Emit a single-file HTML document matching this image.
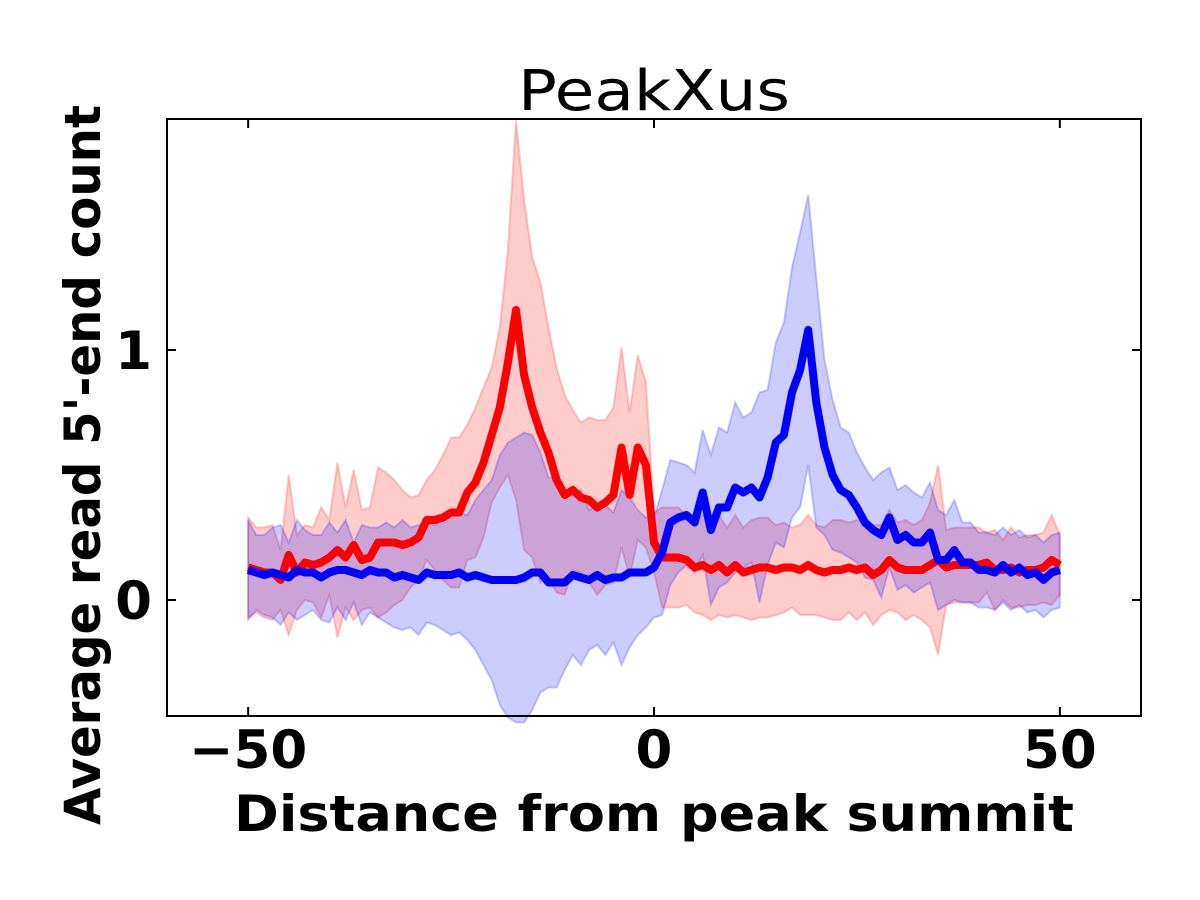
<!DOCTYPE html>
<html><head><meta charset="utf-8"><style>
body{margin:0;background:#fff}
svg{display:block;font-family:"DejaVu Sans","Liberation Sans",sans-serif}
</style></head><body>
<svg id="chart" width="1200" height="900" viewBox="0 0 1200 900" xmlns="http://www.w3.org/2000/svg">
<rect width="1200" height="900" fill="#fff"/>
<g id="bands"></g><g id="lines"></g>
<rect x="167" y="119" width="974" height="597" fill="none" stroke="#000" stroke-width="2"/>
<g id="ticks"></g>
<text x="654" y="110" font-size="56" text-anchor="middle" textLength="272" lengthAdjust="spacingAndGlyphs">PeakXus</text>
<text x="654" y="831" font-size="50" font-weight="bold" text-anchor="middle" textLength="840" lengthAdjust="spacingAndGlyphs">Distance from peak summit</text>
<text transform="translate(100,465) rotate(-90)" font-size="50" font-weight="bold" text-anchor="middle" textLength="720" lengthAdjust="spacingAndGlyphs">Average read 5'-end count</text>
</svg>
<script>
const xs=[];for(let i=-50;i<=50;i++)xs.push(i);
const redMean=[0.13,0.12,0.11,0.11,0.08,0.18,0.11,0.15,0.14,0.15,0.17,0.20,0.17,0.22,0.16,0.17,0.23,0.23,0.23,0.22,0.23,0.25,0.32,0.32,0.33,0.35,0.35,0.43,0.47,0.55,0.66,0.77,0.95,1.16,0.90,0.77,0.67,0.59,0.48,0.42,0.44,0.41,0.40,0.37,0.39,0.42,0.61,0.42,0.61,0.54,0.23,0.17,0.17,0.17,0.16,0.13,0.14,0.12,0.14,0.11,0.14,0.11,0.12,0.13,0.13,0.12,0.13,0.13,0.12,0.14,0.12,0.11,0.12,0.12,0.13,0.12,0.13,0.10,0.12,0.16,0.13,0.12,0.12,0.12,0.14,0.16,0.13,0.14,0.14,0.14,0.14,0.15,0.12,0.12,0.13,0.11,0.12,0.12,0.13,0.16,0.14];
const redSd=[0.2,0.17,0.18,0.19,0.12,0.32,0.15,0.15,0.15,0.22,0.15,0.35,0.2,0.3,0.2,0.2,0.3,0.28,0.25,0.22,0.18,0.17,0.16,0.2,0.25,0.3,0.3,0.27,0.3,0.3,0.27,0.32,0.45,0.76,0.7,0.6,0.6,0.5,0.45,0.4,0.32,0.3,0.33,0.35,0.33,0.35,0.4,0.33,0.37,0.33,0.12,0.2,0.2,0.2,0.18,0.18,0.2,0.2,0.2,0.18,0.2,0.18,0.2,0.2,0.2,0.18,0.18,0.16,0.18,0.2,0.18,0.18,0.2,0.2,0.18,0.2,0.18,0.2,0.18,0.2,0.18,0.2,0.18,0.2,0.25,0.38,0.15,0.15,0.15,0.15,0.15,0.12,0.16,0.12,0.16,0.14,0.14,0.14,0.14,0.18,0.12];
const blueMean=[0.12,0.11,0.10,0.11,0.10,0.09,0.12,0.11,0.11,0.09,0.11,0.12,0.12,0.11,0.10,0.12,0.11,0.11,0.09,0.10,0.09,0.08,0.11,0.10,0.10,0.10,0.11,0.09,0.10,0.09,0.08,0.08,0.08,0.08,0.09,0.11,0.11,0.07,0.07,0.07,0.10,0.09,0.08,0.10,0.08,0.09,0.09,0.11,0.11,0.11,0.13,0.19,0.31,0.33,0.34,0.31,0.43,0.28,0.37,0.37,0.45,0.43,0.45,0.41,0.49,0.63,0.66,0.83,0.92,1.08,0.79,0.61,0.50,0.44,0.42,0.37,0.31,0.28,0.26,0.33,0.24,0.26,0.23,0.23,0.27,0.16,0.16,0.20,0.15,0.15,0.12,0.12,0.11,0.14,0.11,0.13,0.10,0.11,0.08,0.11,0.12];
const blueSd=[0.2,0.15,0.16,0.18,0.2,0.14,0.2,0.17,0.15,0.17,0.2,0.15,0.2,0.12,0.2,0.17,0.18,0.2,0.2,0.22,0.2,0.22,0.2,0.2,0.22,0.24,0.24,0.25,0.3,0.35,0.4,0.5,0.55,0.57,0.58,0.55,0.48,0.42,0.42,0.35,0.32,0.35,0.28,0.28,0.3,0.26,0.35,0.3,0.25,0.22,0.2,0.25,0.25,0.22,0.2,0.2,0.25,0.3,0.32,0.3,0.34,0.3,0.3,0.42,0.35,0.4,0.45,0.5,0.55,0.54,0.5,0.35,0.3,0.25,0.25,0.22,0.22,0.2,0.25,0.2,0.2,0.2,0.2,0.18,0.2,0.2,0.18,0.2,0.16,0.16,0.15,0.15,0.15,0.15,0.15,0.15,0.15,0.15,0.15,0.15,0.15];
const xTicks=[-50,0,50];const yTicks=[0,1];
const X=v=>654+v*8.117, Y=v=>600-v*250;
const NS='http://www.w3.org/2000/svg';
function band(mean,sd,color,name){
  let up=xs.map((x,i)=>X(x).toFixed(1)+','+Y(mean[i]+sd[i]).toFixed(1));
  let lo=xs.map((x,i)=>X(x).toFixed(1)+','+Y(mean[i]-sd[i]).toFixed(1)).reverse();
  const p=document.createElementNS(NS,'polygon');
  p.setAttribute('points',up.concat(lo).join(' '));
  p.setAttribute('fill',color);p.setAttribute('fill-opacity','0.2');
  p.setAttribute('stroke',color);p.setAttribute('stroke-opacity','0.2');p.setAttribute('stroke-width','2');
  
  
  document.getElementById('bands').appendChild(p);
}
function line(mean,color,name){
  const p=document.createElementNS(NS,'polyline');
  p.setAttribute('points',xs.map((x,i)=>X(x).toFixed(1)+','+Y(mean[i]).toFixed(1)).join(' '));
  p.setAttribute('fill','none');p.setAttribute('stroke',color);p.setAttribute('stroke-width','8');p.setAttribute('stroke-linejoin','round');
  
  
  document.getElementById('lines').appendChild(p);
}
band(redMean,redSd,'#ff0000','red-band');
band(blueMean,blueSd,'#0000ff','blue-band');
line(redMean,'#ff0000','red-line');
line(blueMean,'#0000ff','blue-line');
const tg=document.getElementById('ticks');
function mk(tag,attrs){const e=document.createElementNS(NS,tag);for(const k in attrs)e.setAttribute(k,attrs[k]);tg.appendChild(e);return e;}
xTicks.forEach(t=>{
  const x=X(t);
  const a=mk('path',{d:`M${x},716v-9M${x},119v9`,stroke:'#000','stroke-width':2});
  
  
  const l=mk('text',{x:x,y:768,'font-size':53,'font-weight':'bold','text-anchor':'middle'});
  l.textContent=t<0?'\u2212'+Math.abs(t):String(t);
  
  
});
yTicks.forEach(t=>{
  const y=Y(t);
  const a=mk('path',{d:`M167,${y}h9M1141,${y}h-9`,stroke:'#000','stroke-width':2});
  
  
  const l=mk('text',{x:152,y:y+19,'font-size':53,'font-weight':'bold','text-anchor':'end'});
  l.textContent=String(t);
  
  
});
</script>
</body></html>
